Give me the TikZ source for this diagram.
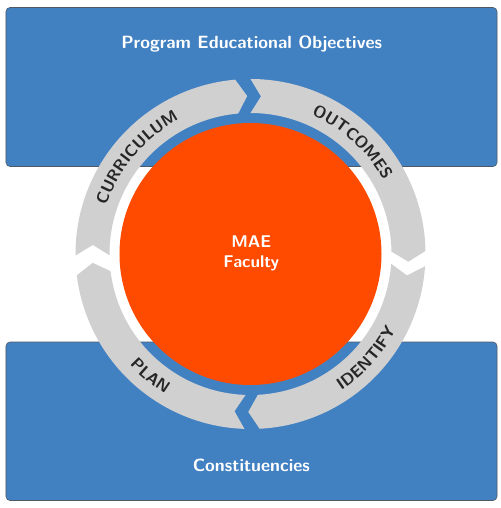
\documentclass[tikz,border=0pt]{standalone}
\usepackage{tikz}
\usetikzlibrary{decorations.text}
\definecolor{boxblue}{RGB}{65,129,194}
\definecolor{boxline}{RGB}{80,90,102}
\definecolor{maeorange}{RGB}{255,75,0}
\definecolor{ringgray}{RGB}{208,208,208}
\definecolor{ringtext}{RGB}{38,38,38}
\def\rin{141}
\def\rout{175}
\def\rmid{158}
\def\tipang{3.8}
\newcommand{\ringarrow}[2]{%
  \fill[ringgray] (#1:\rout) arc[start angle=#1, end angle=#2, radius=\rout]
    -- ({#2-\tipang}:\rmid) -- (#2:\rin)
    arc[start angle=#2, end angle=#1, radius=\rin]
    -- ({#1-\tipang}:\rmid) -- cycle;}
\newcommand{\ringfont}{\sffamily\bfseries\fontsize{16.5}{16.5}\selectfont}

\begin{document}
\begin{tikzpicture}[x=1pt,y=1pt,
        panel/.style={fill=boxblue, draw=boxline, line width=0.6pt, rounded corners=4pt},
        boxtext/.style={text=white, font=\sffamily\bfseries\fontsize{17.7}{20}\selectfont},
        factext/.style={text=white, font=\sffamily\bfseries\fontsize{17}{20}\selectfont},
        ringlabel/.style={decorate, decoration={text along path, text align=center, text color=ringtext}}]
        \useasboundingbox (-250.5,-254) rectangle (249.5,254);
        \draw[panel] (-244.5,87.5) rectangle (246.5,246.5);
        \draw[panel] (-244.5,-246.5) rectangle (246.5,-88);
        \node[boxtext, anchor=base] (poe) at (1.2,205.5) {Program Educational Objectives};
        \node[boxtext, anchor=base] (const) at (0.8,-217.3) {Constituencies};
        \ringarrow{180.5}{95}
        \ringarrow{90}{1}
        \ringarrow{-4}{-87}
        \ringarrow{-92}{-173}
        \fill[maeorange] (0,0) circle[radius=131];
        \node[factext, align=center] (fac) at (0.8,0.25) {MAE\\Faculty};
        \path[ringlabel, decoration={text={|\ringfont|CURRICULUM}}] (164.8:152) arc[start angle=164.8, end angle=114.8, radius=152];
        \path[ringlabel, decoration={text={|\ringfont|OUTCOMES}}] (72.6:152) arc[start angle=72.6, end angle=22.6, radius=152];
        \path[ringlabel, decoration={text={|\ringfont|IDENTIFY}}] (-67:164) arc[start angle=-67, end angle=-17, radius=164];
        \path[ringlabel, decoration={text={|\ringfont|PLAN}}] (205.6:164) arc[start angle=205.6, end angle=255.6, radius=164];
\end{tikzpicture}
\end{document}
